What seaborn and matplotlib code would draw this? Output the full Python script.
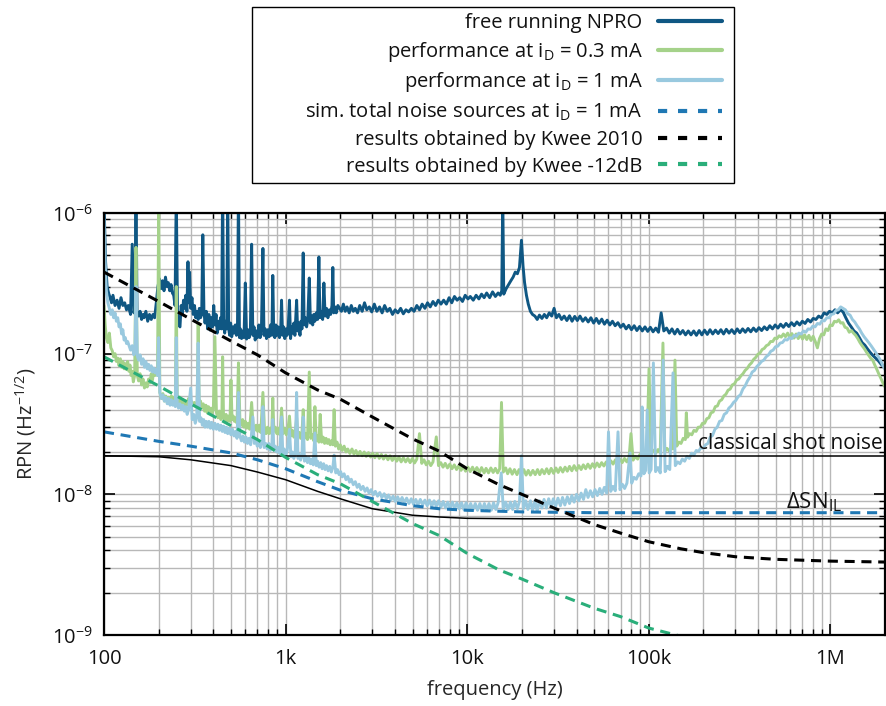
import numpy as np
import matplotlib
matplotlib.use("Agg")
import matplotlib.pyplot as plt
import seaborn as sns
from matplotlib.lines import Line2D
from matplotlib.patches import Rectangle
from matplotlib.ticker import FixedLocator, FixedFormatter, LogLocator, NullFormatter
import matplotlib.transforms as mtransforms

# ---------------------------------------------------------------------------
# Data: frequency in Hz, relative power noise in units of 1e-8 / sqrt(Hz)
# ---------------------------------------------------------------------------
RPN_UNIT = 1e-8

# free running NPRO
npro_f = [100, 102, 104, 106, 108, 110, 112, 115, 118, 121, 124, 127, 130, 133, 136, 140, 143, 146, 148,
          150, 152, 155, 158, 161, 164, 166, 170, 174, 178, 182, 186, 190, 194, 198, 202, 206, 210, 214,
          218, 222, 226, 230, 234, 238, 242, 246, 250, 254, 258, 262, 266, 270, 274, 278, 282, 286, 290,
          293, 296, 300, 305, 310, 315, 320, 325, 330, 335, 340, 345, 350, 355, 360, 366, 372, 378, 384,
          390, 396, 402, 408, 414, 420, 426, 432, 438, 444, 450, 456, 462, 468, 474, 480, 486, 492, 498,
          505, 512, 520, 528, 536, 543, 550, 557, 564, 572, 580, 590, 600, 610, 620, 630, 640, 650, 660,
          670, 680, 690, 700, 712, 724, 736, 750, 760, 772, 785, 798, 812, 826, 840, 850, 860, 872, 884,
          896, 910, 925, 940, 950, 962, 975, 990, 1005, 1020, 1035, 1050, 1065, 1080, 1095, 1110, 1125,
          1150, 1165, 1180, 1200, 1215, 1230, 1250, 1265, 1285, 1305, 1325, 1350, 1370, 1390, 1410, 1430,
          1450, 1475, 1500, 1525, 1545, 1570, 1600, 1625, 1650, 1680, 1710, 1740, 1770, 1800, 1820, 1840,
          1870, 1900, 1940, 1985, 2030, 2080, 2130, 2180, 2240, 2300, 2360, 2420, 2490, 2560, 2640, 2720,
          2800, 2890, 2980, 3080, 3180, 3290, 3400, 3510, 3630, 3750, 3880, 4010, 4150, 4300, 4450, 4600,
          4760, 4930, 5100, 5280, 5460, 5650, 5850, 6050, 6260, 6480, 6700, 6930, 7170, 7420, 7680, 7950,
          8220, 8510, 8800, 9100, 9420, 9750, 10100, 10400, 10800, 11200, 11600, 12000, 12400, 12800,
          13300, 13800, 14300, 14800, 15200, 15500, 15700, 15900, 16400, 16900, 17400, 17900, 18400,
          18900, 19400, 19900, 20300, 20700, 21200, 21700, 22300, 22900, 23600, 24300, 25000, 25800,
          26600, 27400, 28300, 29200, 30100, 31000, 32000, 33100, 34200, 35400, 36600, 37800, 39100,
          40400, 41800, 43300, 44800, 46400, 48000, 49700, 51400, 53200, 55100, 57000, 59000, 61000,
          63100, 65300, 67600, 70000, 72400, 75000, 77600, 80300, 83100, 86000, 89000, 92100, 95300,
          98700, 102000, 105600, 109300, 113100, 117000, 121000, 125300, 129700, 134200, 138900, 143800,
          148800, 154000, 159400, 165000, 170800, 176800, 183000, 189400, 196000, 202900, 210000, 217400,
          225000, 232900, 241000, 249500, 258200, 267300, 276700, 286400, 296400, 306800, 317500, 328700,
          340200, 352100, 364400, 377200, 390400, 404100, 418300, 432900, 448100, 463800, 480000, 496800,
          514200, 532200, 550900, 570200, 590200, 610900, 632300, 654400, 677300, 701000, 725600, 751000,
          777300, 804500, 832700, 861900, 892100, 923300, 955700, 989200, 1024000, 1060000, 1097000,
          1135000, 1175000, 1216000, 1259000, 1303000, 1349000, 1396000, 1445000, 1495000, 1548000,
          1602000, 1658000, 1716000, 1776000, 1838000, 1903000, 1970000, 2000000]
npro_v = [120, 45, 30, 27, 25, 23, 26, 22, 24, 21, 25, 22, 23, 20.5, 22, 19, 60, 19.5, 21,
          160, 20, 18.5, 20, 17.5, 19, 18, 20, 17, 19, 17.5, 19, 18, 23, 30, 34, 29, 33, 28,
          35, 30, 32, 28, 31, 27, 26, 22, 140, 19, 16, 15.5, 22, 19, 24, 21, 26, 20, 45,
          23, 38, 21, 25, 19, 22, 18, 20, 17.5, 21, 18, 19, 70, 20, 16.5, 20, 15, 19, 14.7,
          18, 15.5, 22, 16, 19, 14, 17, 15, 18, 15, 160, 16, 14, 17, 15, 150, 15, 13.5, 16.5,
          13.2, 15.5, 14, 16, 13.5, 14.5, 160, 13, 15, 12.8, 14.5, 13, 31.8, 12.7, 14.8, 13, 15, 60, 13.5,
          15.5, 12.5, 14.5, 13, 16, 13, 15, 56, 13.5, 15, 12.8, 14.8, 13.2, 16, 13.5, 36, 14.2, 13, 16,
          13.5, 15.5, 13, 15, 24, 13.5, 15.5, 12.8, 15, 13.5, 16, 24, 12.8, 15.5, 14, 16.5, 13.5,
          24, 14.5, 16.5, 13.5, 17, 15, 52, 16, 18, 15.5, 17.5, 34.5, 16.5, 18.5, 16, 19,
          17, 19.5, 17.5, 48.7, 18, 20, 17.5, 31.8, 18.5, 21, 18, 20.5, 19, 22, 41, 19.5,
          21.5, 19.5, 22, 21, 20, 22.5, 20, 21.5, 19.5, 22, 20, 21, 19.5, 22, 20, 23,
          20.5, 21.5, 19.8, 22.5, 20, 21.5, 19.5, 22, 20, 21, 19, 20.5, 19.5, 21, 19.2, 20.5,
          19.8, 21, 20, 22, 20.5, 22.5, 21, 23, 21.5, 23.5, 22, 24, 22.5, 24, 22.5, 25,
          23, 25.5, 24, 25, 23.5, 26, 24.5, 25.5, 24, 26, 24.5, 26.5, 25, 27,
          25, 27.5, 25.5, 27, 26, 28, 130, 26.5, 29, 31, 33, 35, 38,
          37, 41, 64, 42, 32, 26, 22.5, 20, 19, 18.5, 17.5, 18.8, 17.8,
          19, 18, 19.5, 18.5, 21, 18, 19, 17.5, 18.5, 17.2, 18.6, 17, 18.4,
          17.2, 18.5, 17, 18, 16.8, 18, 16.5, 17.8, 16.4, 17.6, 16.2, 17.3, 16,
          17, 15.8, 16.6, 15.4, 16.2, 15, 15.9, 14.8, 15.8, 14.6, 15.6, 14.5, 15.5,
          14.4, 15.4, 14.3, 15.2, 14.2, 19.5, 14.5, 15.2, 14, 15, 13.8, 14.9,
          13.8, 14.6, 13.6, 14.5, 13.6, 14.5, 13.5, 14.6, 13.6, 14.7, 13.7, 14.8,
          13.8, 14.7, 13.9, 14.8, 13.8, 14.9, 14, 14.8, 13.9, 15, 14.1, 15,
          14.2, 15.1, 14.3, 15.2, 14.4, 15.3, 14.6, 15.5, 14.8, 15.8, 15, 16,
          15.2, 16.2, 15.4, 16.4, 15.6, 16.6, 15.8, 16.8, 16, 17, 16.4, 17.5,
          16.8, 17.8, 17.5, 18.5, 18, 19.5, 19, 20, 19.5, 20.5, 19.5,
          20.5, 19.8, 18, 16.5, 15.5, 14.5, 14, 13, 12, 11.5,
          10.8, 10.2, 9.7, 9.3, 8.9, 8.4, 8.1, 8.0]

# performance at i_D = 0.3 mA
p03_f = [100, 101.5, 103, 105, 107, 109, 111, 113, 115, 117, 119, 121, 123, 125, 127, 129, 131, 133, 135,
         137, 139, 141, 143, 145, 147.5, 150, 152.5, 155, 158, 161, 164, 167, 170, 173, 176, 179, 182,
         185, 188, 191, 194, 197, 200, 203, 207, 211, 215, 219, 223, 227, 231, 235, 239, 243, 247, 250,
         253, 257, 262, 267, 272, 277, 282, 287, 292, 297, 302, 308, 314, 320, 326, 330, 334, 340, 346,
         352, 358, 364, 370, 376, 382, 388, 394, 400, 408, 416, 424, 432, 440, 446, 450, 455, 462, 470,
         478, 486, 494, 500, 507, 515, 523, 531, 540, 550, 560, 570, 580, 590, 600, 611, 622, 634, 650,
         662, 675, 688, 701, 715, 730, 750, 765, 780, 795, 810, 826, 838, 850, 862, 878, 895, 912, 930,
         950, 970, 990, 1010, 1030, 1050, 1070, 1090, 1110, 1130, 1150, 1170, 1190, 1210, 1230, 1250,
         1270, 1295, 1320, 1350, 1375, 1400, 1430, 1450, 1475, 1500, 1525, 1550, 1580, 1610, 1640, 1670,
         1700, 1730, 1760, 1790, 1820, 1850, 1880, 1920, 1960, 2000, 2050, 2100, 2150, 2200, 2260, 2320,
         2380, 2440, 2500, 2570, 2640, 2710, 2780, 2860, 2940, 3020, 3100, 3190, 3280, 3370, 3460, 3560,
         3660, 3760, 3870, 3980, 4090, 4210, 4330, 4450, 4580, 4710, 4850, 4990, 5130, 5280, 5460, 5620,
         5780, 5950, 6120, 6300, 6480, 6760, 6950, 7150, 7360, 7570, 7790, 8020, 8250, 8490, 8740, 8990,
         9250, 9520, 9800, 10100, 10400, 10700, 11000, 11300, 11700, 12000, 12400, 12700, 13100, 13500,
         13900, 14300, 14700, 15100, 15450, 15800, 16300, 16700, 17200, 17700, 18200, 18800, 19300,
         19900, 20500, 21100, 21700, 22300, 23000, 23700, 24400, 25100, 25800, 26600, 27400, 28200,
         29000, 29900, 30800, 31700, 32600, 33600, 34600, 35600, 36600, 37700, 38800, 40000, 41200,
         42400, 43600, 44900, 46200, 47600, 49000, 50400, 51900, 53400, 55000, 56600, 58300, 60000,
         61800, 63600, 65500, 67400, 69400, 71400, 73500, 75700, 77900, 79800, 82000, 84400, 86900,
         89400, 92000, 94700, 97500, 100300, 103000, 106000, 109100, 112300, 115600, 119700, 122500,
         126000, 129700, 133500, 136000, 139400, 142500, 146500, 150500, 154700, 159000, 161000, 163500,
         168000, 172600, 177300, 182200, 187200, 192300, 197600, 203000, 208600, 214300, 220200, 226200,
         232400, 238800, 245300, 252000, 258900, 266000, 273300, 280800, 288500, 296400, 304500, 312800,
         321400, 330200, 339200, 348500, 358000, 367800, 377900, 388200, 398800, 409700, 420900, 432400,
         444200, 456400, 468800, 481700, 494800, 508400, 522200, 536500, 551200, 566200, 581700, 597600,
         613900, 630700, 647900, 665600, 683800, 702500, 721700, 741400, 761700, 782500, 803800, 825800,
         848400, 871500, 895300, 919800, 945000, 970800, 997300, 1024500, 1052600, 1081300, 1111000,
         1141000, 1172000, 1204000, 1237000, 1271000, 1306000, 1341000, 1378000, 1416000, 1455000,
         1494000, 1535000, 1577000, 1620000, 1665000, 1710000, 1757000, 1805000, 1855000, 1905000,
         1957000, 2000000]
p03_v = [22, 16, 13, 12, 14, 11, 10.5, 9.5, 10, 8.8, 9.3, 8.2, 9.2, 8, 8.8, 7.8, 8.5, 7.7, 8.8,
         7.5, 8.3, 7, 7.5, 6.3, 7, 57, 7, 6.4, 7.2, 6, 6.6, 5.7, 6.2, 5.8, 6.6, 6.2, 7.2,
         6.5, 7.7, 7, 7.6, 7, 110, 5.3, 4.8, 5.2, 4.6, 5, 4.5, 4.9, 4.5, 5, 4.6, 4.9, 4.5, 30,
         4.8, 4.4, 4.9, 4.3, 4.7, 4.2, 4.6, 4.3, 4.8, 4.2, 4.6, 4.3, 4.5, 4.2, 4.6, 16.5, 4.4, 4.6, 4.1,
         4.4, 3.9, 4.3, 3.8, 4.2, 3.8, 4.1, 3.8, 4, 13.2, 3.8, 3.5, 3.9, 3.4, 3.7, 9.5, 3.6, 3.3, 3.7,
         3.3, 3.6, 3.3, 6.5, 3.4, 3.6, 3.3, 3.5, 3.2, 8.6, 3.4, 3.1, 3.4, 3.0, 3.3, 2.95, 3.2, 2.9, 4.5,
         3.1, 2.85, 3.1, 2.8, 3.1, 2.75, 5.3, 2.9, 2.7, 3.0, 2.7, 2.95, 2.7, 4.84, 2.8, 3.0, 2.7, 2.95, 2.65,
         4.1, 2.7, 2.95, 2.65, 2.9, 3.6, 2.6, 2.85, 2.55, 2.8, 3.5, 2.6, 2.75, 2.5, 2.7, 4.0,
         2.5, 2.7, 2.45, 7.4, 2.5, 2.65, 2.4, 4.2, 2.4, 2.6, 2.35, 3.7, 2.35, 2.55, 2.3, 2.5,
         2.3, 2.45, 2.25, 2.4, 2.25, 4.0, 2.2, 2.35, 2.1, 2.25, 2.05, 2.2, 2.0, 2.1, 1.95, 2.1,
         1.93, 2.05, 1.9, 2.02, 1.88, 2.0, 1.86, 1.98, 1.84, 1.96, 1.82, 1.95, 1.8, 1.92, 1.78, 1.9,
         1.76, 1.88, 1.74, 1.86, 1.72, 1.84, 1.7, 1.82, 1.7, 1.8, 1.68, 1.8, 1.67, 1.78, 2.7, 1.66,
         1.76, 1.62, 1.72, 1.6, 1.7, 2.56, 1.6, 1.68, 1.56, 1.66, 1.54, 1.64, 1.52, 1.62, 1.5, 1.6,
         1.48, 1.58, 1.46, 1.56, 1.45, 1.56, 1.44, 1.55, 1.43, 1.55, 1.42, 1.53, 1.42, 1.54,
         1.43, 1.53, 1.42, 1.52, 4.5, 1.44, 1.54, 1.4, 1.52, 1.39, 1.5, 1.38, 1.5,
         1.38, 1.5, 1.37, 1.48, 1.37, 1.48, 1.38, 1.5, 1.38, 1.5, 1.4, 1.52, 1.4,
         1.53, 1.41, 1.54, 1.43, 1.55, 1.44, 1.56, 1.46, 1.58, 1.47, 1.6, 1.48, 1.6,
         1.5, 1.62, 1.52, 1.64, 1.53, 1.65, 1.55, 1.67, 1.57, 1.68, 1.59, 1.7, 1.62,
         1.73, 1.64, 1.76, 1.66, 1.78, 1.68, 1.8, 1.7, 1.83, 2.7, 1.75, 1.86, 1.78,
         1.92, 1.84, 1.98, 1.9, 7.8, 1.95, 2.06, 1.96, 2.08, 1.98, 11.9, 2.02,
         2.12, 2.03, 2.15, 2.1, 9.0, 2.2, 2.35, 2.3, 2.5, 2.45, 3.8, 2.55,
         2.7, 2.65, 2.85, 2.8, 3.0, 3.0, 3.2, 3.2, 3.45, 3.5, 3.8, 3.85,
         4.2, 4.25, 4.6, 4.7, 5.0, 5.15, 5.5, 5.6, 6.0, 6.1, 6.5, 6.6,
         6.95, 7.2, 7.6, 7.85, 8.3, 8.6, 9.1, 9.4, 9.9, 10.1, 10.7, 10.9,
         11.4, 11.6, 12.2, 12.2, 12.9, 12.8, 13.4, 13.1, 13.8, 13.2, 14.0, 13.1,
         13.9, 12.9, 13.8, 12.8, 13.7, 12.7, 13.6, 12.6, 13.5, 12.4, 13.3, 12.2,
         11.0, 12.8, 13.8, 13.6, 15.0, 14.6, 16.0, 15.8, 17.0, 16.8, 17.4,
         16.5, 16.6, 15.4, 15.2, 14.2, 14.6, 14.0, 13.5, 12.8, 12.0,
         11.4, 10.9, 10.3, 9.8, 9.3, 9.0, 8.3, 7.7, 7.1, 6.6,
         6.1, 5.8]

# performance at i_D = 1 mA
p1_f = [100, 101.5, 103, 105, 107, 109, 111, 113, 115, 117, 119, 121, 123, 125, 127, 129, 131, 133, 135,
        137, 140, 143, 146, 148, 150, 152.5, 155, 158, 161, 164, 167, 170, 173, 176, 179, 182, 185, 188,
        191, 194, 197, 200, 203, 207, 211, 215, 219, 223, 227, 231, 235, 239, 243, 247, 250, 253, 257,
        262, 267, 272, 277, 282, 287, 292, 300, 306, 312, 318, 324, 330, 336, 342, 348, 354, 360, 366,
        372, 378, 385, 392, 400, 408, 416, 424, 432, 440, 448, 456, 464, 472, 480, 490, 500, 510, 520,
        530, 540, 550, 560, 571, 582, 593, 605, 617, 629, 642, 660, 672, 685, 698, 712, 726, 740, 750,
        762, 777, 792, 808, 824, 840, 850, 862, 877, 893, 910, 928, 950, 965, 983, 1002, 1021, 1050,
        1070, 1090, 1110, 1130, 1150, 1170, 1190, 1210, 1230, 1250, 1270, 1295, 1320, 1345, 1370, 1395,
        1420, 1450, 1475, 1500, 1530, 1560, 1590, 1620, 1650, 1680, 1715, 1750, 1785, 1820, 1850, 1890,
        1930, 1970, 2010, 2050, 2100, 2150, 2200, 2250, 2300, 2360, 2420, 2480, 2540, 2600, 2670, 2740,
        2810, 2880, 2960, 3040, 3120, 3210, 3300, 3390, 3490, 3590, 3690, 3800, 3910, 4020, 4140, 4260,
        4380, 4510, 4640, 4780, 4920, 5060, 5210, 5360, 5520, 5680, 5850, 6020, 6200, 6380, 6570, 6760,
        6960, 7170, 7380, 7600, 7820, 8050, 8290, 8530, 8780, 9040, 9310, 9580, 9860, 10150, 10450,
        10760, 11080, 11400, 11740, 12080, 12440, 12800, 13180, 13570, 13970, 14380, 14800, 15400,
        15800, 16300, 16800, 17300, 17800, 18300, 18900, 19400, 19900, 20400, 21000, 21600, 22300,
        22900, 23600, 24300, 25000, 25800, 26500, 27300, 28100, 29000, 29800, 30700, 31600, 32600,
        33500, 34500, 35600, 36600, 37700, 38800, 40000, 41200, 42400, 43700, 45000, 46300, 47700,
        49100, 50600, 52100, 53700, 55300, 56900, 58600, 60000, 61700, 63500, 65400, 67700, 69400,
        71500, 73600, 75800, 78800, 80500, 82900, 85400, 88000, 90600, 92000, 94000, 96200, 98000,
        100500, 103000, 106000, 109000, 112300, 115700, 120000, 123000, 126700, 130500, 136000, 140000,
        144200, 148500, 153000, 157600, 162300, 167200, 172200, 177300, 182600, 188100, 193700, 199500,
        205500, 211700, 218000, 224500, 231300, 238200, 245300, 252700, 260300, 268100, 276100, 284400,
        292900, 301700, 310700, 320000, 329600, 339500, 349700, 360200, 371000, 382100, 393500, 405300,
        417500, 430000, 442900, 456200, 469900, 484000, 498500, 513500, 528900, 544800, 561100, 577900,
        595300, 613100, 631500, 650500, 670000, 690100, 710800, 732100, 754100, 776700, 800000, 824000,
        848700, 874200, 900400, 927400, 955300, 984000, 1013000, 1044000, 1075000, 1107000, 1140000,
        1175000, 1210000, 1246000, 1284000, 1322000, 1362000, 1403000, 1445000, 1488000, 1533000,
        1579000, 1626000, 1675000, 1725000, 1777000, 1830000, 1885000, 1942000, 2000000]
p1_v = [90, 45, 28, 23, 21, 19, 20.5, 18, 19.5, 17, 18, 15.5, 16.3, 13.8, 14.8, 12.5, 13, 11.8, 12.2,
        11.5, 10.6, 11.4, 9.8, 10.4, 30, 9.6, 9, 9.8, 8.4, 9.2, 8, 8.8, 7.8, 8.4, 7.6, 8.2, 7.4, 7.9,
        7.3, 7.7, 7, 13, 5.3, 4.8, 5.1, 4.6, 4.9, 4.4, 4.8, 4.3, 4.7, 4.3, 4.6, 4.2, 13, 4.5, 4.1,
        4.4, 4.0, 4.3, 3.9, 4.2, 3.7, 4.0, 5.7, 3.4, 3.7, 3.2, 3.5, 11.9, 3.3, 3.5, 3.1, 3.4, 3.0, 3.3,
        3.0, 3.3, 2.95, 3.25, 2.9, 3.2, 2.9, 3.15, 2.85, 3.1, 2.8, 3.05, 2.75, 3.0, 2.7, 2.95, 2.65, 2.9, 2.6,
        2.8, 2.5, 5.3, 2.6, 2.4, 2.6, 2.35, 2.55, 2.3, 2.5, 2.25, 3.55, 2.3, 2.45, 2.2, 2.4, 2.15, 2.35, 4.2,
        2.15, 2.3, 2.1, 2.3, 2.05, 2.25, 3.4, 2.05, 2.2, 2.0, 2.15, 1.95, 3.55, 1.95, 2.1, 1.9, 2.05, 2.9,
        1.85, 2.0, 1.8, 1.95, 5.3, 1.8, 1.92, 1.75, 1.88, 3.55, 1.72, 1.85, 1.68, 1.82, 1.65, 1.78,
        1.62, 2.73, 1.6, 1.72, 1.56, 1.68, 1.52, 1.65, 1.5, 1.6, 1.47, 1.58, 1.44, 1.55, 1.9, 1.42,
        1.5, 1.38, 1.45, 1.33, 1.4, 1.27, 1.34, 1.22, 1.28, 1.17, 1.23, 1.12, 1.18, 1.08, 1.14, 1.05,
        1.11, 1.02, 1.08, 0.99, 1.05, 0.97, 1.03, 0.95, 1.01, 0.93, 0.99, 0.91, 0.97, 0.89, 0.96, 0.88,
        0.95, 0.87, 0.94, 0.86, 0.93, 0.85, 0.92, 0.84, 0.92, 0.84, 0.91, 0.83, 0.91, 0.82, 0.9, 0.82,
        0.9, 0.81, 0.89, 0.8, 0.88, 0.8, 0.88, 0.79, 0.87, 0.79, 0.87, 0.78, 0.87, 0.78, 0.86,
        0.78, 0.86, 0.77, 0.86, 0.77, 0.86, 0.77, 0.86, 0.77, 0.87, 0.78, 0.87, 1.42,
        0.78, 0.88, 0.78, 0.88, 0.78, 0.89, 0.79, 0.89, 1.88, 0.79, 0.9, 0.78, 0.9,
        0.77, 0.9, 0.76, 0.9, 0.8, 0.92, 0.8, 0.93, 0.81, 0.93, 0.82, 0.94, 0.83,
        0.95, 0.84, 0.96, 0.86, 0.98, 0.88, 1.0, 0.9, 1.02, 0.92, 1.08, 0.95, 1.06,
        0.96, 1.08, 0.98, 1.1, 1.0, 1.12, 1.02, 2.78, 1.05, 1.14, 1.06, 2.78, 1.08,
        1.18, 1.1, 1.2, 1.97, 1.2, 1.32, 1.28, 1.4, 1.35, 4.18, 1.4, 1.48, 3.98,
        1.42, 1.5, 8.6, 1.45, 1.55, 1.42, 9.0, 1.45, 1.58, 1.5, 7.3, 1.6,
        1.7, 1.65, 1.78, 1.72, 1.86, 1.8, 1.96, 1.9, 2.05, 2.02, 2.15, 2.12,
        2.25, 2.3, 2.55, 2.62, 2.9, 3.0, 3.3, 3.35, 3.7, 3.8, 4.1, 4.25,
        4.5, 4.65, 4.95, 5.1, 5.6, 5.9, 6.4, 6.8, 7.4, 7.6, 8.1, 8.4,
        8.8, 9.0, 9.5, 9.8, 10.4, 10.6, 11.2, 11.3, 11.9, 12.0, 12.6, 12.5,
        13.0, 12.8, 13.5, 13.3, 14.0, 13.8, 14.5, 14.2, 15.0, 14.9, 15.7, 15.5,
        16.4, 16.2, 17.2, 17.1, 18.0, 18.0, 19.0, 19.2, 20.3, 20.5, 21.5,
        21.0, 20.5, 19.2, 18.8, 17.5, 16.8, 15.8, 15.0, 14.0, 13.2,
        12.6, 12.0, 11.4, 10.8, 10.2, 9.6, 9.0, 8.3, 7.7]

# simulated total noise at i_D = 1 mA
sim_f = [100, 200, 300, 500, 700, 1000, 1500, 2000, 3000, 5000, 7000, 10000, 20000, 50000, 2000000]
sim_v = [2.78, 2.38, 2.2, 1.97, 1.76, 1.52, 1.23, 1.07, 0.93, 0.83, 0.79, 0.77, 0.75, 0.74, 0.74]

# Kwee 2010 result
kwee_f = [100, 150, 200, 300, 500, 700, 1000, 1500, 2000, 3000, 5000, 7000, 10000, 15000, 20000,
          30000, 50000, 70000, 100000, 150000, 200000, 300000, 500000, 1000000, 2000000]
kwee_v = [38, 28.7, 23.5, 17.6, 12.3, 9.8, 7.3, 5.52, 4.75, 3.55, 2.48, 2.03, 1.52, 1.17, 1.0,
          0.8, 0.61, 0.53, 0.46, 0.41, 0.385, 0.36, 0.345, 0.335, 0.33]

# Kwee result lowered by 12 dB
kwee12_f = [100, 200, 300, 500, 700, 1000, 1500, 2000, 3000, 5000, 7000, 10000, 15000, 20000, 30000,
            50000, 70000, 100000, 150000, 200000]
kwee12_v = [9.5, 5.9, 4.4, 3.08, 2.45, 1.83, 1.38, 1.19, 0.89, 0.62, 0.51, 0.38, 0.29, 0.25, 0.2,
            0.155, 0.135, 0.112, 0.098, 0.094]

# classical shot noise level and Delta SN_IL curve
shot_level = 1.88
dsn_f = [100, 200, 300, 500, 700, 1000, 1500, 2000, 3000, 5000, 7000, 10000, 20000, 2000000]
dsn_v = [1.88, 1.85, 1.76, 1.6, 1.44, 1.27, 1.05, 0.93, 0.79, 0.71, 0.69, 0.675, 0.67, 0.67]

x_ticks = [100, 1e3, 1e4, 1e5, 1e6]
x_ticklabels = ["100", "1k", "10k", "100k", "1M"]
y_ticks = [1e-9, 1e-8, 1e-7, 1e-6]

labels = ["free running NPRO",
          r"performance at i$_\mathregular{D}$ = 0.3 mA",
          r"performance at i$_\mathregular{D}$ = 1 mA",
          r"sim. total noise sources at i$_\mathregular{D}$ = 1 mA",
          "results obtained by Kwee 2010",
          "results obtained by Kwee -12dB"]
colors = ["#0f5783", "#a5d28a", "#99c9df", "#1f78b4", "#000000", "#2aae7a"]

# ---------------------------------------------------------------------------
sns.set_theme(style="ticks")
plt.rcParams.update({
    "font.family": ["Open Sans", "DejaVu Sans"],
    "mathtext.fontset": "custom",
    "mathtext.rm": "Open Sans",
    "mathtext.it": "Open Sans",
    "mathtext.bf": "Open Sans",
    "mathtext.default": "regular",
    "axes.unicode_minus": False,
    "text.color": "#111111",
})
FS = 14.5

fig = plt.figure(figsize=(8.86, 7.06), dpi=100)
ax = fig.add_axes([0.1174, 0.1006, 0.8815, 0.5977])

def arr(v):
    return np.asarray(v, dtype=float) * RPN_UNIT

dash = (0, (3.3, 2.2))
series = [
    (npro_f, npro_v, colors[0], 2.1, "-", 3),
    (p03_f, p03_v, colors[1], 2.1, "-", 4),
    (p1_f, p1_v, colors[2], 2.1, "-", 5),
    (sim_f, sim_v, colors[3], 2.2, dash, 7),
    (kwee_f, kwee_v, colors[4], 2.2, dash, 8),
    (kwee12_f, kwee12_v, colors[5], 2.2, dash, 9),
]
for f, v, c, lw, ls, z in series:
    sns.lineplot(x=np.asarray(f, dtype=float), y=arr(v), ax=ax, color=c, linewidth=lw,
                 linestyle=ls, estimator=None, sort=False, legend=False, zorder=z)

# shot noise references
ax.axhline(shot_level * RPN_UNIT, color="black", lw=1.1, zorder=6)
sns.lineplot(x=np.asarray(dsn_f, dtype=float), y=arr(dsn_v), ax=ax, color="black",
             linewidth=1.1, estimator=None, sort=False, legend=False, zorder=6)

ax.set_xscale("log")
ax.set_yscale("log")
ax.set_xlim(100, 2e6)
ax.set_ylim(1e-9, 1e-6)

ax.xaxis.set_major_locator(FixedLocator(x_ticks))
ax.xaxis.set_major_formatter(FixedFormatter(x_ticklabels))
ax.xaxis.set_minor_locator(LogLocator(base=10, subs=np.arange(2, 10)))
ax.xaxis.set_minor_formatter(NullFormatter())
ax.yaxis.set_major_locator(FixedLocator(y_ticks))
ax.yaxis.set_minor_locator(LogLocator(base=10, subs=np.arange(2, 10), numticks=20))
ax.yaxis.set_minor_formatter(NullFormatter())

ax.grid(True, which="both", color="#b8b8b8", linewidth=1.0)
ax.set_axisbelow(True)
ax.tick_params(which="both", direction="in", top=True, right=True, colors="black", labelsize=FS)
ax.tick_params(which="major", length=8, width=1.2)
ax.tick_params(which="minor", length=4.5, width=1.0)
ax.tick_params(axis="x", which="major", pad=10)
ax.tick_params(axis="y", which="major", pad=8)
for lab in ax.get_xticklabels() + ax.get_yticklabels():
    lab.set_color("#111111")
for s in ax.spines.values():
    s.set_linewidth(1.6)
    s.set_color("black")
    s.set_zorder(10)

ax.set_xlabel("frequency (Hz)", fontsize=FS, labelpad=8)
ax.set_ylabel(r"RPN (Hz$^{\mathregular{-1/2}}$)", fontsize=FS, labelpad=10)

trans = mtransforms.blended_transform_factory(ax.transAxes, ax.transData)
ax.text(0.997, shot_level * RPN_UNIT * 1.035, "classical shot noise", transform=trans,
        ha="right", va="bottom", fontsize=15, zorder=12)
ax.text(5.7e5, 0.8 * RPN_UNIT, r"$\Delta$SN$_{\mathregular{IL}}$", ha="left", va="baseline",
        fontsize=16, zorder=12)

# legend: entries right-aligned with the line samples on the right, framed box
handles = []
for i, c in enumerate(colors):
    ls = "-" if i < 3 else (0, (2.2, 2.6))
    handles.append(Line2D([0], [0], color=c, lw=3.0, linestyle=ls))
leg = fig.legend(handles, labels, loc="upper right", bbox_to_anchor=(722 / 886, 1 - 13 / 706),
                 markerfirst=False, frameon=False, fontsize=FS, handlelength=3.2,
                 handletextpad=0.75, labelspacing=0.33, borderpad=0, borderaxespad=0)
fig.patches.append(Rectangle((252 / 886, 1 - 183 / 706), (734 - 252) / 886, (183 - 7) / 706,
                             transform=fig.transFigure, fill=False, edgecolor="black",
                             linewidth=1.0, zorder=20))

fig.savefig("out.png", dpi=100)
